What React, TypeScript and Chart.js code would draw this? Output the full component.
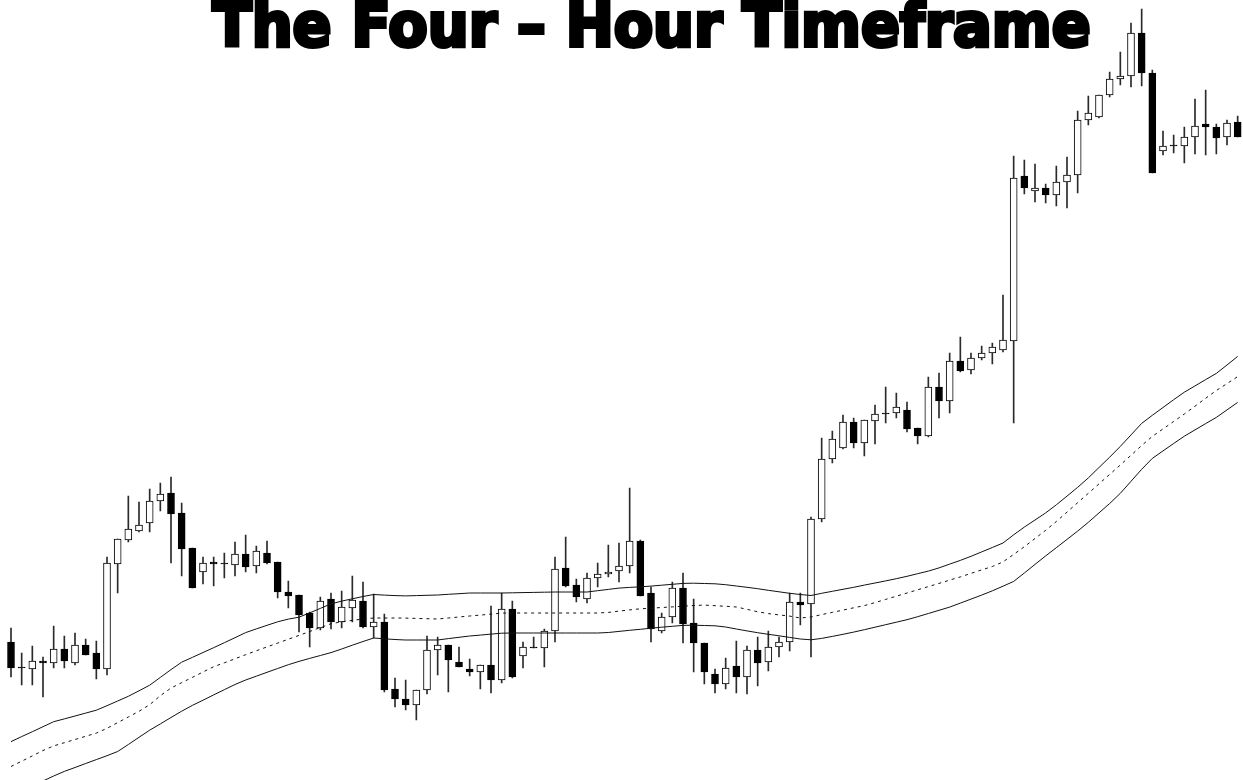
import React, { useEffect, useRef } from "react";
import { Chart, registerables } from "chart.js";

Chart.register(...registerables);

// Four-hour candles (price in chart points)
const opens = [
  138, 113, 111, 119, 117, 131, 117, 135, 127, 111,
  216, 240, 249, 257, 279, 287, 267, 232, 208, 218,
  217, 215, 226, 214, 227, 218, 188, 185, 167, 152,
  181, 158, 172, 179, 153, 158, 91, 81, 75, 90,
  130, 135, 118, 111, 108, 115, 100, 171, 124, 133,
  132, 149, 212, 195, 181, 202, 206, 209, 214, 239,
  187, 149, 163, 192, 157, 137, 106, 96, 114, 103,
  130, 118, 133, 138, 178, 176, 261, 321, 332, 358,
  337, 359, 367, 367, 370, 352, 344, 393, 379, 419,
  410, 422, 427, 430, 439, 604, 589, 592, 585, 598,
  605, 660, 663, 685, 701, 704, 747, 707, 629, 635,
  634, 643, 656, 653, 643, 658,
];

const highs = [
  152, 127, 134, 123, 154, 144, 147, 141, 139, 223,
  241, 284, 278, 291, 297, 303, 277, 232, 223, 223,
  227, 238, 245, 234, 239, 218, 199, 185, 168, 183,
  187, 189, 204, 198, 186, 166, 102, 100, 90, 144,
  143, 135, 133, 121, 115, 174, 187, 179, 138, 143,
  151, 223, 243, 201, 207, 217, 235, 237, 292, 240,
  193, 167, 198, 207, 181, 137, 111, 122, 139, 134,
  143, 149, 143, 187, 187, 263, 342, 349, 365, 362,
  360, 375, 393, 387, 378, 352, 403, 407, 427, 443,
  427, 434, 437, 485, 624, 620, 616, 596, 614, 623,
  669, 684, 685, 708, 728, 757, 771, 710, 649, 645,
  653, 681, 690, 656, 660, 664,
];

const lows = [
  103, 95, 95, 83, 112, 112, 115, 125, 101, 105,
  187, 238, 248, 248, 269, 217, 204, 192, 196, 194,
  202, 204, 208, 207, 216, 182, 172, 148, 133, 150,
  151, 152, 158, 152, 142, 88, 73, 70, 60, 86,
  105, 88, 113, 104, 91, 87, 97, 102, 112, 132,
  113, 138, 193, 178, 177, 193, 203, 198, 207, 184,
  138, 147, 157, 137, 108, 96, 87, 91, 87, 86,
  94, 109, 123, 129, 155, 123, 258, 317, 331, 332,
  324, 336, 357, 362, 348, 336, 343, 362, 367, 408,
  406, 420, 416, 428, 357, 586, 578, 577, 574, 572,
  587, 655, 662, 683, 695, 693, 694, 607, 625, 627,
  617, 626, 625, 626, 635, 643,
];

const closes = [
  112, 112, 119, 117, 131, 119, 135, 125, 111, 217,
  241, 251, 255, 279, 286, 266, 231, 192, 217, 216,
  216, 226, 213, 229, 217, 188, 184, 165, 152, 179,
  158, 173, 180, 153, 158, 90, 81, 75, 90, 130,
  135, 120, 113, 108, 115, 100, 171, 103, 133, 132,
  149, 211, 194, 183, 202, 206, 208, 214, 239, 184,
  151, 163, 192, 156, 137, 108, 96, 112, 103, 130,
  117, 133, 138, 178, 175, 261, 321, 341, 358, 337,
  360, 366, 366, 373, 351, 344, 393, 379, 419, 409,
  422, 427, 433, 440, 602, 592, 592, 585, 598, 605,
  660, 667, 685, 701, 704, 747, 707, 607, 634, 634,
  643, 654, 653, 642, 657, 643,
];

// Envelope indicator: upper band, middle (dashed) line, lower band
const upperBand = [
  38.4, 43.4, 48.3, 53.3, 58.3, 61.1, 64, 66.9, 69.8, 74.3,
  79, 83.7, 89.2, 94.8, 102.6, 110.4, 117.8, 122.6, 127.5, 132.3,
  137.3, 142.3, 147.4, 151.1, 154.7, 158.2, 160.9, 162.8, 167.1, 171.6,
  176.1, 178.9, 181.2, 183.5, 185.5, 184.9, 184.4, 184.1, 184.4, 184.7,
  185, 185.7, 186.3, 187, 187, 187, 187, 187.2, 187.4, 187.6,
  187.8, 188, 188, 188, 188, 189.3, 190.6, 191.9, 192.6, 193.2,
  193.9, 194.8, 195.7, 196.6, 196.8, 196.5, 196.2, 195.3, 194, 192.7,
  191.3, 189.7, 188.2, 186.7, 185.5, 184.5, 186.7, 188.7, 190.7, 192.7,
  194.9, 197, 199.1, 201.3, 203.7, 206.3, 208.9, 212.1, 215.9, 219.6,
  223.7, 228.1, 232.5, 237, 245.2, 252.9, 260, 267.1, 275.2, 283.9,
  292.7, 302.1, 312.5, 322.8, 333.6, 345.1, 356.6, 364.7, 372.5, 380.3,
  387.8, 394.1, 400.4, 406.6, 415, 423.6,
];

const middleLine = [
  13.5, 18.8, 24.1, 29.5, 34.1, 37.3, 40.5, 43.7, 46.9, 51.7,
  57.4, 63, 68.7, 75.3, 84.3, 92, 97.3, 102.6, 108, 113.3,
  117.2, 121.2, 125.3, 129.2, 133.1, 136.9, 140.8, 144.6, 148.5, 152.4,
  156.3, 158.2, 159.6, 161, 162, 162, 162, 161.9, 161.6, 161.3,
  161, 162, 163, 164, 164.9, 165.9, 166.9, 167, 167, 167,
  167, 167, 167, 167, 167, 167, 167.6, 168.9, 170.1, 171.2,
  171.8, 172.5, 173.1, 173.8, 174.5, 174.9, 174.3, 173.7, 173, 170.7,
  168.2, 166.4, 165.1, 163.9, 162, 163, 165.4, 167.6, 169.9, 172.2,
  174.4, 177.4, 180.6, 183.8, 187, 190.2, 193.4, 196.6, 199.9, 203.1,
  206.6, 210.1, 213.5, 218.1, 225.6, 233.3, 241.5, 249.7, 258.5, 267.9,
  277.3, 286.7, 296.1, 305.6, 315, 324.7, 334.5, 343.6, 351.1, 358.5,
  366, 373.8, 381.7, 389.5, 396.4, 403.4,
];

const lowerBand = [
  -15, -10, -5, -1, 4, 8.6, 12.5, 16.5, 20.4, 24.3,
  28.5, 35.5, 42.7, 49.8, 56.1, 62.5, 68.8, 74.6, 79.8, 85.1,
  90.3, 95.5, 100, 103.8, 107.7, 111.5, 115.3, 118.6, 121.6, 124.5,
  127.4, 131, 134.8, 138.5, 142, 141.2, 140.5, 140, 140, 140,
  140, 141.4, 142.7, 144, 144.9, 145.9, 146.8, 147, 147, 147,
  147, 147, 147, 147, 147, 147, 147.5, 148.6, 149.7, 150.7,
  151.8, 152.8, 153.7, 154.6, 154.8, 154.5, 154.2, 153, 151, 149.1,
  147.3, 145.7, 144.2, 142.6, 141, 140.2, 141.6, 143.6, 145.7, 147.9,
  150.3, 152.8, 155.3, 157.8, 160.3, 163.3, 166.5, 169.7, 172.9, 176.9,
  180.9, 184.9, 189.2, 193.8, 198.6, 207, 215.6, 224.1, 232.3, 240.6,
  248.9, 257.7, 267.1, 276.5, 286.7, 298.7, 310.7, 321.6, 329.1, 336.5,
  343.8, 350.1, 356.4, 362.6, 370.1, 377.6,
];

const candleLabels = opens.map((_, i) => `Bar ${i + 1}`);

const TITLE = "The Four \u2013 Hour Timeframe";
const TITLE_WIDTH = 878;

export default function App() {
  const canvasRef = useRef<HTMLCanvasElement>(null);
  const titleRef = useRef<HTMLSpanElement>(null);

  useEffect(() => {
    document.body.style.margin = "0";
    const t = titleRef.current;
    if (t) {
      t.style.transform = "none";
      const w = t.getBoundingClientRect().width;
      if (w > 0) t.style.transform = `scaleX(${TITLE_WIDTH / w})`;
    }
    const bodyColors = opens.map((o, i) => (closes[i] >= o ? "#ffffff" : "#000000"));
    const chart = new Chart(canvasRef.current as HTMLCanvasElement, {
      type: "bar",
      data: {
        labels: candleLabels,
        datasets: [
          {
            type: "line",
            label: "Upper band",
            data: upperBand,
            borderColor: "#111111",
            borderWidth: 1,
            pointRadius: 0,
            fill: false,
            tension: 0,
            order: 0,
          },
          {
            type: "line",
            label: "Middle",
            data: middleLine,
            borderColor: "#111111",
            borderWidth: 1,
            borderDash: [3, 4],
            pointRadius: 0,
            fill: false,
            tension: 0,
            order: 0,
          },
          {
            type: "line",
            label: "Lower band",
            data: lowerBand,
            borderColor: "#111111",
            borderWidth: 1,
            pointRadius: 0,
            fill: false,
            tension: 0,
            order: 0,
          },
          {
            type: "bar",
            label: "Body",
            data: opens.map((o, i) => [o, closes[i]]),
            backgroundColor: bodyColors,
            borderColor: "#000000",
            borderWidth: 1,
            borderSkipped: false,
            barThickness: 7,
            grouped: false,
            order: 1,
          } as any,
          {
            type: "bar",
            label: "Wick",
            data: lows.map((l, i) => [l, highs[i]]),
            backgroundColor: "#2a2a2a",
            borderWidth: 0,
            barThickness: 1,
            grouped: false,
            order: 2,
          } as any,
        ],
      },
      options: {
        responsive: false,
        animation: false,
        devicePixelRatio: 1,
        layout: { padding: { left: 5.67, right: 0, top: 0, bottom: 0 } },
        scales: {
          x: { type: "category", display: false, offset: true, grid: { display: false } },
          y: { type: "linear", display: false, min: 0, max: 780 },
        },
        plugins: {
          legend: { display: false },
          tooltip: { enabled: false },
          title: { display: false },
        },
      },
    });
    return () => chart.destroy();
  }, []);

  return (
    <div style={{ position: "relative", width: 1243, height: 780, overflow: "hidden", background: "#ffffff" }}>
      <canvas ref={canvasRef} width={1243} height={780} style={{ display: "block" }} />
      <div
        style={{
          position: "absolute",
          left: 0,
          top: -6,
          width: 1304,
          textAlign: "center",
          pointerEvents: "none",
        }}
      >
        <span
          ref={titleRef}
          style={{
            display: "inline-block",
            fontFamily: '"DejaVu Sans", sans-serif',
            fontWeight: 700,
            fontSize: 61,
            lineHeight: 1,
            whiteSpace: "nowrap",
            color: "#000",
            WebkitTextStroke: "4px #000",
            transformOrigin: "center",
          }}
        >
          {TITLE}
        </span>
      </div>
    </div>
  );
}
